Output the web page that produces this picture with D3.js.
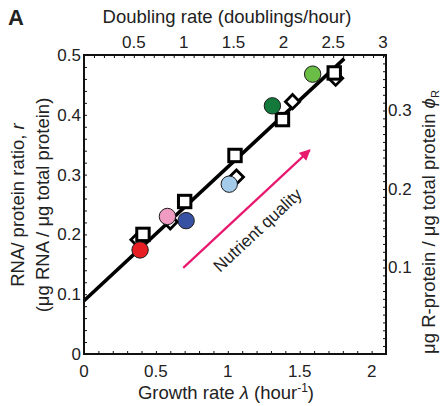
<!DOCTYPE html>
<html><head><meta charset="utf-8">
<script src="https://cdn.jsdelivr.net/npm/d3@7/dist/d3.min.js"></script>
<style>
html,body{margin:0;padding:0;background:#fff;}
svg text{font-family:"Liberation Sans",Arial,Helvetica,sans-serif;fill:#222;}
</style></head>
<body>
<svg id="c" width="444" height="406"></svg>
<script>
// ---- data ----
const xTicks = [0, 0.5, 1, 1.5, 2];
const yTicks = [0, 0.1, 0.2, 0.3, 0.4, 0.5];
const topTicks = [0.5, 1, 1.5, 2, 2.5, 3];
const rightTicks = [0.1, 0.2, 0.3];

const squareLambda = [0.41, 0.70, 1.05, 1.38, 1.74];
const squareR      = [0.200, 0.255, 0.332, 0.392, 0.470];

const diamondLambda = [0.375, 0.60, 1.06, 1.45, 1.75];
const diamondR      = [0.191, 0.221, 0.296, 0.422, 0.461];

const circleLambda = [0.39, 0.58, 0.71, 1.01, 1.31, 1.59];
const circleR      = [0.174, 0.230, 0.223, 0.284, 0.415, 0.468];
const circleColors = ["#e81e25", "#f09bc2", "#3852a3", "#a5cbeb", "#137a3c", "#6abd45"];

const fitLambda = [0, 1.81];
const fitR      = [0.089, 0.494];

const arrowLambda = [0.69, 1.57];
const arrowR      = [0.144, 0.341];

// ---- scales ----
const L = 84, R = 386, T = 55, B = 354;
const x = d3.scaleLinear().domain([0, 2.1]).range([L, R]);
const y = d3.scaleLinear().domain([0, 0.5]).range([B, T]);
const xTop = d3.scaleLinear().domain([0, 2.1 / Math.LN2]).range([L, R]);
const yRight = d3.scaleLinear().domain([-0.0102, 0.3707]).range([B, T]);

const svg = d3.select("#c");
const TICKFS = 17, TITLEFS = 18.5;

// fit line
svg.append("path")
  .attr("d", d3.line().x((d,i)=>x(fitLambda[i])).y((d,i)=>y(fitR[i]))(fitLambda))
  .attr("stroke", "#000").attr("stroke-width", 3.6).attr("fill", "none");

// diamonds
svg.selectAll(".dia").data(diamondLambda).join("rect")
  .attr("x", -5).attr("y", -5).attr("width", 10).attr("height", 10)
  .attr("transform", (d,i)=>`translate(${x(d)},${y(diamondR[i])}) rotate(45)`)
  .attr("fill", "#fff").attr("stroke", "#000").attr("stroke-width", 2.8);

// squares
svg.selectAll(".sq").data(squareLambda).join("rect")
  .attr("x", d=>x(d)-6.2).attr("y", (d,i)=>y(squareR[i])-6.2)
  .attr("width", 12.4).attr("height", 12.4)
  .attr("fill", "#fff").attr("stroke", "#000").attr("stroke-width", 3);

// circles
svg.selectAll(".ci").data(circleLambda).join("circle")
  .attr("cx", d=>x(d)).attr("cy", (d,i)=>y(circleR[i])).attr("r", 8.2)
  .attr("fill", (d,i)=>circleColors[i]).attr("stroke", "#1a1a1a").attr("stroke-width", 1);

// arrow
const defs = svg.append("defs");
defs.append("marker").attr("id","ah").attr("viewBox","0 0 10 10")
  .attr("refX", 9).attr("refY", 5).attr("markerWidth", 5).attr("markerHeight", 5)
  .attr("orient","auto").attr("markerUnits","strokeWidth")
  .append("path").attr("d","M0,0 L10,5 L0,10 z").attr("fill","#e8186f");
svg.append("line")
  .attr("x1", x(arrowLambda[0])).attr("y1", y(arrowR[0]))
  .attr("x2", x(arrowLambda[1])).attr("y2", y(arrowR[1]))
  .attr("stroke", "#e8186f").attr("stroke-width", 2.2).attr("marker-end","url(#ah)");
const ax0 = x(arrowLambda[0]), ay0 = y(arrowR[0]), ax1 = x(arrowLambda[1]), ay1 = y(arrowR[1]);
const ang = Math.atan2(ay1-ay0, ax1-ax0) * 180 / Math.PI;
svg.append("text")
  .attr("transform", `translate(${(ax0+ax1)/2+12},${(ay0+ay1)/2+22}) rotate(${ang})`)
  .attr("text-anchor","middle").attr("dominant-baseline","middle")
  .attr("font-size", 17).text("Nutrient quality");

// axes box
svg.append("rect").attr("x", L).attr("y", T).attr("width", R-L).attr("height", B-T)
  .attr("fill","none").attr("stroke","#111").attr("stroke-width", 2);

// bottom axis (ticks inward)
const gB = svg.append("g").attr("transform", `translate(0,${B})`)
  .call(d3.axisBottom(x).tickValues(d3.range(0, 2.101, 0.1)).tickSize(-3).tickFormat(""));
gB.select(".domain").remove();
gB.selectAll("line").attr("stroke","#111");
svg.append("g").selectAll("text").data(xTicks).join("text")
  .attr("x", d=>x(d)).attr("y", 377).attr("text-anchor","middle").attr("font-size", TICKFS)
  .text(d=>d3.format("~g")(d));

// left axis
const gLft = svg.append("g").attr("transform", `translate(${L},0)`)
  .call(d3.axisLeft(y).tickValues(d3.range(0, 0.501, 0.02)).tickSize(-3).tickFormat(""));
gLft.select(".domain").remove();
gLft.selectAll("line").attr("stroke","#111");
svg.append("g").selectAll("text").data(yTicks).join("text")
  .attr("x", 81).attr("y", d=>y(d)+6).attr("text-anchor","end").attr("font-size", TICKFS)
  .text(d=>d3.format("~g")(d));

// top axis
const gT = svg.append("g").attr("transform", `translate(0,${T})`)
  .call(d3.axisTop(xTop).tickValues(d3.range(0.1, 3.01, 0.1)).tickSize(-3).tickFormat(""));
gT.select(".domain").remove();
gT.selectAll("line").attr("stroke","#111");
svg.append("g").selectAll("text").data(topTicks).join("text")
  .attr("x", d=>xTop(d)).attr("y", 48).attr("text-anchor","middle").attr("font-size", TICKFS)
  .text(d=>d3.format("~g")(d));

// right axis
const gR = svg.append("g").attr("transform", `translate(${R},0)`)
  .call(d3.axisRight(yRight).tickValues(d3.range(0, 0.371, 0.01)).tickSize(-3).tickFormat(""));
gR.select(".domain").remove();
gR.selectAll("line").attr("stroke","#111");
svg.append("g").selectAll("text").data(rightTicks).join("text")
  .attr("x", 388).attr("y", d=>yRight(d)+6).attr("text-anchor","start").attr("font-size", TICKFS)
  .text(d=>d3.format("~g")(d));

// titles
svg.append("text").attr("x", 8).attr("y", 25).attr("font-size", 22).attr("font-weight","bold").text("A");
svg.append("text").attr("x", 227).attr("y", 23).attr("text-anchor","middle").attr("font-size", TITLEFS)
  .text("Doubling rate (doublings/hour)");

const bt = svg.append("text").attr("x", 226).attr("y", 399).attr("text-anchor","middle").attr("font-size", TITLEFS);
bt.append("tspan").text("Growth rate ");
bt.append("tspan").attr("font-style","italic").text("λ");
bt.append("tspan").text(" (hour");
bt.append("tspan").attr("font-size", 12).attr("dy", -7).text("-1");
bt.append("tspan").attr("dy", 7).text(")");

const lt1 = svg.append("text").attr("transform","translate(24,205) rotate(-90)")
  .attr("text-anchor","middle").attr("font-size", TITLEFS);
lt1.append("tspan").text("RNA/ protein ratio, ");
lt1.append("tspan").attr("font-style","italic").text("r");
svg.append("text").attr("transform","translate(49,205) rotate(-90)")
  .attr("text-anchor","middle").attr("font-size", TITLEFS).text("(μg RNA / μg total protein)");

const rt = svg.append("text").attr("transform","translate(435,222) rotate(-90)")
  .attr("text-anchor","middle").attr("font-size", TITLEFS);
rt.append("tspan").text("μg R-protein / μg total protein ");
rt.append("tspan").attr("font-style","italic").text("ϕ");
rt.append("tspan").attr("font-size", 11).attr("dy", 4).text("R");
</script>
</body></html>
